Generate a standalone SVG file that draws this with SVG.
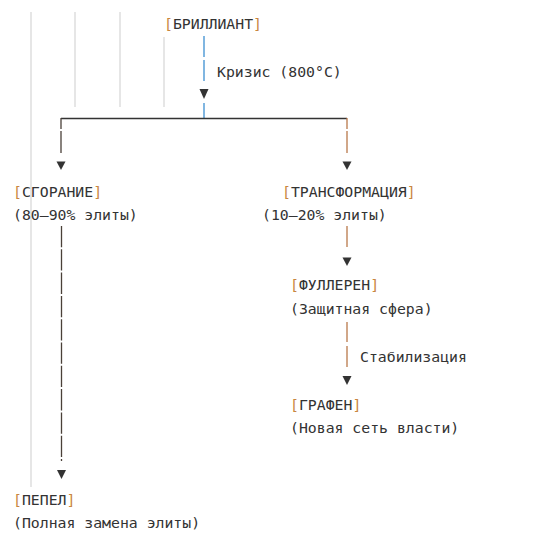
<svg xmlns="http://www.w3.org/2000/svg" width="554" height="546" viewBox="0 0 554 546">
<style>
  text { font-family: "DejaVu Sans Mono", "Liberation Mono", monospace; font-size: 14.8px; fill: #333; }
  .br { fill: #c98640; }
  .guide { stroke: #d6d6d6; stroke-width: 1.2; }
  .ln { fill: none; stroke-width: 1.3; }
  .blue { stroke: #3d8fd1; }
  .dark { stroke: #4a4038; }
  .brown { stroke: #b8784a; }
  .hz { stroke: #333; }
  .arr { fill: #333; }
</style>
<rect width="554" height="546" fill="#fff"/>
<g id="guides">
  <line class="guide" x1="31" y1="12" x2="31" y2="487"/>
  <line class="guide" x1="75" y1="12" x2="75" y2="107"/>
  <line class="guide" x1="120" y1="12" x2="120" y2="107"/>
  <line class="guide" x1="164" y1="37" x2="164" y2="107"/>
</g>
<g id="connectors">
  <line class="ln blue" x1="204" y1="36" x2="204" y2="57"/>
  <line class="ln blue" x1="204" y1="60" x2="204" y2="81"/>
  <polygon class="arr" points="199.5,89 208.5,89 204,99"/>
  <line class="ln blue" x1="204" y1="103" x2="204" y2="118"/>
  <path class="ln hz" d="M61 118.5 H347"/>
  <line class="ln dark" x1="61" y1="118" x2="61" y2="129"/>
  <line class="ln dark" x1="61" y1="131" x2="61" y2="153"/>
  <polygon class="arr" points="56.5,161.5 65.5,161.5 61,170"/>
  <line class="ln brown" x1="347" y1="118" x2="347" y2="129"/>
  <line class="ln brown" x1="347" y1="131" x2="347" y2="153"/>
  <polygon class="arr" points="342.5,161.5 351.5,161.5 347,170"/>
  <line class="ln dark" x1="61.5" y1="226" x2="61.5" y2="461" stroke-dasharray="21.3 2"/>
  <polygon class="arr" points="57,470 66,470 61.5,479"/>
  <line class="ln brown" x1="347" y1="226" x2="347" y2="247"/>
  <polygon class="arr" points="342.5,257.5 351.5,257.5 347,266"/>
  <line class="ln brown" x1="347" y1="322" x2="347" y2="342"/>
  <line class="ln brown" x1="347" y1="346" x2="347" y2="367"/>
  <polygon class="arr" points="342.5,376 351.5,376 347,385"/>
  <text x="217" y="77">Кризис (800°C)</text>
  <text x="360" y="362">Стабилизация</text>
</g>
<g id="brilliant">
  <text x="164" y="29"><tspan class="br">[</tspan>БРИЛЛИАНТ<tspan class="br">]</tspan></text>
</g>
<g id="sgoranie">
  <text x="13" y="197"><tspan class="br">[</tspan>СГОРАНИЕ<tspan class="br">]</tspan></text>
  <text x="13" y="220">(80–90% элиты)</text>
</g>
<g id="transformacia">
  <text x="282" y="197"><tspan class="br">[</tspan>ТРАНСФОРМАЦИЯ<tspan class="br">]</tspan></text>
  <text x="262" y="220">(10–20% элиты)</text>
</g>
<g id="fulleren">
  <text x="290" y="290"><tspan class="br">[</tspan>ФУЛЛЕРЕН<tspan class="br">]</tspan></text>
  <text x="290" y="314">(Защитная сфера)</text>
</g>
<g id="grafen">
  <text x="290" y="410"><tspan class="br">[</tspan>ГРАФЕН<tspan class="br">]</tspan></text>
  <text x="290" y="433">(Новая сеть власти)</text>
</g>
<g id="pepel">
  <text x="13" y="505"><tspan class="br">[</tspan>ПЕПЕЛ<tspan class="br">]</tspan></text>
  <text x="13" y="528">(Полная замена элиты)</text>
</g>
</svg>
